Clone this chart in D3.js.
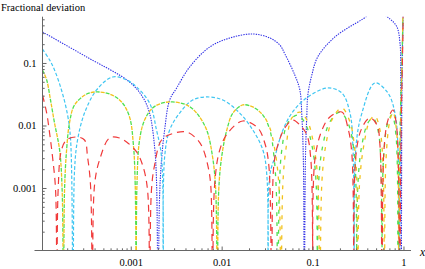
<!DOCTYPE html>
<html>
<head>
<meta charset="utf-8">
<script src="https://cdn.jsdelivr.net/npm/d3@7"></script>
<style>
	body { margin: 0; background: #fff; }
	svg text { font-family: "Liberation Serif", "Times New Roman", "DejaVu Serif", serif; }
</style>
</head>
<body>
<div id="chart-area" style="width:425px;height:269px;"></div>
<script>

// values, [x, deviation]; 1e-5 marks a zero crossing
const blueData = [
	[1.07e-4, 0.313], [3.27e-4, 0.125], [9.70e-4, 0.0497], [1.35e-3, 0.0286], [1.61e-3, 0.0158],
	[1.83e-3, 0.00453], [1.92e-3, 0.00134], [2.0e-3, 1e-5], [2.07e-3, 6.4e-4], [2.18e-3, 0.00281],
	[2.36e-3, 0.00847], [2.68e-3, 0.0256], [3.20e-3, 0.0398], [4.45e-3, 0.0863], [7.38e-3, 0.180],
	[0.0123, 0.251], [0.0220, 0.291], [0.0339, 0.251], [0.0436, 0.194], [0.0495, 0.140],
	[0.0638, 0.0640], [0.0725, 0.0370], [0.0762, 0.0147], [0.0792, 0.00281], [0.0813, 1e-5],
	[0.0834, 0.00281], [0.0865, 0.0147], [0.0887, 0.0308], [0.0982, 0.0643], [0.114, 0.125],
	[0.176, 0.261], [0.358, 0.506], [0.498, 0.679], [0.710, 0.506], [0.847, 0.377],
	[0.915, 0.209], [0.934, 0.037], [0.946, 1e-5], [0.962, 0.037], [0.987, 0.488], [1.0, 3]
];

const cyanData = [
	[1.07e-4, 0.167], [1.28e-4, 0.112], [1.45e-4, 0.0773], [1.73e-4, 0.0370], [2.02e-4, 0.0147],
	[2.18e-4, 0.00586], [2.32e-4, 1e-5], [2.41e-4, 0.00194], [2.60e-4, 0.00586], [3.10e-4, 0.0158],
	[4.21e-4, 0.0370], [6.31e-4, 0.0597], [9.00e-4, 0.0535], [1.16e-3, 0.0413], [1.61e-3, 0.0229],
	[1.92e-3, 0.00847], [2.18e-3, 0.00313], [2.28e-3, 1e-5], [2.36e-3, 0.00313], [2.68e-3, 0.00847],
	[3.45e-3, 0.0158], [4.80e-3, 0.0256], [6.84e-3, 0.0286], [0.0103, 0.0256], [0.0158, 0.0158],
	[0.0220, 0.00847], [0.0284, 0.00406], [0.0314, 0.00161], [0.0326, 1e-5], [0.0339, 0.00161],
	[0.0385, 0.00313], [0.0459, 0.00759], [0.0592, 0.0158], [0.0887, 0.0286], [0.147, 0.0398],
	[0.210, 0.0331], [0.258, 0.0158], [0.278, 0.00453], [0.289, 1e-5], [0.300, 0.00453],
	[0.349, 0.0158], [0.485, 0.0479], [0.675, 0.0331], [0.806, 0.0158], [0.869, 0.00453],
	[0.892, 1e-5], [0.927, 0.00586], [0.975, 0.233], [1.0, 3]
];

const greenData = [
	[1.07e-4, 0.0773], [1.19e-4, 0.0535], [1.31e-4, 0.0256], [1.45e-4, 0.0110], [1.65e-4, 0.00406],
	[1.76e-4, 9.3e-4], [1.82e-4, 1e-5], [1.87e-4, 9.3e-4], [1.97e-4, 0.00406], [2.12e-4, 0.0110],
	[2.41e-4, 0.0213], [3.27e-4, 0.0319], [4.21e-4, 0.0344], [5.85e-4, 0.0319], [7.93e-4, 0.0238],
	[9.70e-4, 0.0137], [1.07e-3, 0.00488], [1.12e-3, 1.12e-3], [1.15e-3, 1e-5], [1.17e-3, 1.12e-3],
	[1.25e-3, 0.00586], [1.42e-3, 0.0122], [1.74e-3, 0.0191], [2.24e-3, 0.0229], [2.88e-3, 0.0238],
	[4.12e-3, 0.0213], [5.31e-3, 0.0158], [6.84e-3, 0.00847], [7.95e-3, 0.00313], [8.6e-3, 9.3e-4],
	[8.95e-3, 1e-5], [9.29e-3, 9.3e-4], [0.0100, 0.00313], [0.0114, 0.00847], [0.0133, 0.0158],
	[0.0171, 0.0213], [0.0220, 0.0198], [0.0284, 0.0147], [0.0339, 0.00847], [0.0375, 0.00337],
	[0.0399, 9.3e-4], [0.0415, 1e-5], [0.0431, 9.3e-4], [0.0459, 0.00406], [0.0534, 0.0110],
	[0.0689, 0.0147], [0.0844, 0.0102], [0.0982, 0.00488], [0.109, 0.00134], [0.113, 1e-5],
	[0.117, 0.00134], [0.130, 0.00488], [0.155, 0.0114], [0.200, 0.0164], [0.245, 0.0110],
	[0.285, 0.00406], [0.300, 1.12e-3], [0.308, 1e-5], [0.315, 1.12e-3], [0.349, 0.00488],
	[0.406, 0.0110], [0.462, 0.0132], [0.524, 0.00847], [0.565, 0.00233], [0.580, 1e-5],
	[0.602, 0.00281], [0.675, 0.0114], [0.747, 0.0147], [0.827, 0.00705], [0.865, 1e-5],
	[0.904, 0.00406], [0.975, 0.233], [1.0, 3]
];

const yellowData = [
	[1.07e-4, 0.0773], [1.19e-4, 0.0535], [1.31e-4, 0.0256], [1.45e-4, 0.0110], [1.65e-4, 0.00406],
	[1.76e-4, 9.3e-4], [1.82e-4, 1e-5], [1.87e-4, 9.3e-4], [1.97e-4, 0.00406], [2.12e-4, 0.0110],
	[2.41e-4, 0.0213], [3.27e-4, 0.0319], [4.21e-4, 0.0344], [5.85e-4, 0.0319], [7.93e-4, 0.0238],
	[9.70e-4, 0.0137], [1.07e-3, 0.00488], [1.12e-3, 1.12e-3], [1.15e-3, 1e-5], [1.17e-3, 1.12e-3],
	[1.25e-3, 0.00586], [1.42e-3, 0.0122], [1.74e-3, 0.0191], [2.24e-3, 0.0229], [2.88e-3, 0.0238],
	[4.12e-3, 0.0213], [5.31e-3, 0.0158], [6.84e-3, 0.00847], [7.95e-3, 0.00313], [8.6e-3, 9.3e-4],
	[8.95e-3, 1e-5], [9.29e-3, 9.3e-4], [0.0100, 0.00313], [0.0114, 0.00847], [0.0133, 0.0158],
	[0.0171, 0.0213], [0.0220, 0.0198], [0.0284, 0.0147], [0.0339, 0.00912], [0.0385, 0.00406],
	[0.0426, 1.12e-3], [0.0448, 1e-5], [0.0471, 1.12e-3], [0.0508, 0.00406], [0.0592, 0.0132],
	[0.0725, 0.0164], [0.0887, 0.0114], [0.103, 0.00488], [0.114, 0.00134], [0.120, 1e-5],
	[0.127, 0.00134], [0.140, 0.00488], [0.167, 0.0132], [0.210, 0.0191], [0.258, 0.0114],
	[0.292, 0.00406], [0.308, 1.12e-3], [0.315, 1e-5], [0.328, 1.12e-3], [0.367, 0.00488],
	[0.428, 0.0122], [0.485, 0.0142], [0.551, 0.00847], [0.595, 0.00233], [0.618, 1e-5],
	[0.642, 0.00281], [0.710, 0.0122], [0.766, 0.0164], [0.847, 0.00705], [0.881, 1e-5],
	[0.915, 0.00406], [0.975, 0.233], [1.0, 3]
];

const redData = [
	[1.07e-4, 0.0308], [1.19e-4, 0.0158], [1.28e-4, 0.00759], [1.38e-4, 0.00313], [1.49e-4, 9.3e-4],
	[1.54e-4, 1e-5], [1.59e-4, 9.3e-4], [1.73e-4, 0.00406], [1.97e-4, 0.00586], [2.54e-4, 0.00655],
	[3.10e-4, 0.00586], [3.35e-4, 0.00313], [3.61e-4, 1.12e-3], [3.80e-4, 1e-5], [4.0e-4, 1.12e-3],
	[4.54e-4, 0.00281], [5.85e-4, 0.00631], [7.54e-4, 0.00631], [9.00e-4, 0.00545], [1.16e-3, 0.00377],
	[1.35e-3, 0.00233], [1.53e-3, 9.3e-4], [1.61e-3, 1e-5], [1.69e-3, 9.3e-4], [1.83e-3, 0.00233],
	[2.18e-3, 0.00586], [2.81e-3, 0.00731], [4.12e-3, 0.00787], [5.45e-3, 0.00586], [6.18e-3, 0.00437],
	[7.03e-3, 0.00233], [7.58e-3, 1.12e-3], [7.95e-3, 1e-5], [8.37e-3, 1.12e-3], [9.53e-3, 0.00406],
	[0.0117, 0.00759], [0.0171, 0.0118], [0.0250, 0.00912], [0.0298, 0.00525], [0.0330, 0.00233],
	[0.0356, 1e-5], [0.0375, 0.00233], [0.0415, 0.00488], [0.0495, 0.00912], [0.0607, 0.0122],
	[0.0725, 0.0102], [0.0865, 0.00705], [0.0958, 0.00281], [0.101, 1e-5], [0.106, 0.00281],
	[0.127, 0.00847], [0.155, 0.0137], [0.210, 0.0164], [0.245, 0.00912], [0.271, 0.00337],
	[0.285, 1e-5], [0.300, 0.00337], [0.349, 0.00912], [0.428, 0.0132], [0.511, 0.0102],
	[0.551, 0.00488], [0.580, 1e-5], [0.610, 0.00406], [0.675, 0.0122], [0.766, 0.0177],
	[0.847, 0.00847], [0.904, 1e-5], [0.938, 0.00586], [0.987, 0.337], [1.0, 3]
];

const xMajorTicks = [0.001, 0.01, 0.1, 1];
const xTickLabels = ['0.001', '0.01', '0.1', '1'];
const yMajorTicks = [0.001, 0.01, 0.1];
const yTickLabels = ['0.001', '0.01', '0.1'];

window.addEventListener('DOMContentLoaded', () => {

	const width = 425;
	const height = 269;
	const serif = '"Liberation Serif", "Times New Roman", "DejaVu Serif", serif';

	const svg = d3.select('#chart-area')
		.append('svg')
		.attr('width', width)
		.attr('height', height);

	// Scales
	const x = d3.scaleLog()
		.domain([1.07e-4, 1.21])
		.range([42.5, 411]);

	const y = d3.scaleLog()
		.domain([1e-4, 0.55])
		.range([250.5, 16.7]);

	// minor ticks 2..9 per decade inside the domains
	const minorTicks = (scale) => {
		const [lo, hi] = scale.domain();
		const out = [];
		for (let e = -5; e <= 1; e++) {
			for (let m = 2; m <= 9; m++) {
				const v = m * Math.pow(10, e);
				if (v >= lo && v <= hi) out.push(v);
			}
		}
		return out;
	};

	const series = [
		{ data: blueData, color: '#2f2fe6', dash: '1.4,1.1', width: 1.1 },
		{ data: cyanData, color: '#3fc6f2', dash: '3.5,2', width: 1.2 },
		{ data: greenData, color: '#4fe04f', dash: '4,6', width: 1.3, offset: 0 },
		{ data: yellowData, color: '#f2c21c', dash: '4,6', width: 1.3, offset: 5 },
		{ data: redData, color: '#f03a3a', dash: '7,5', width: 1.2 }
	];

	svg.append('defs').append('clipPath')
		.attr('id', 'plot-clip')
		.append('rect')
		.attr('x', x.range()[0])
		.attr('y', y.range()[1])
		.attr('width', x.range()[1] - x.range()[0])
		.attr('height', y.range()[0] - y.range()[1]);

	const line = d3.line()
		.x(d => x(d[0]))
		.y(d => y(d[1]))
		.curve(d3.curveCatmullRom.alpha(0.5));

	const plot = svg.append('g').attr('clip-path', 'url(#plot-clip)');

	series.forEach(s => {
		plot.append('path')
			.datum(s.data)
			.attr('fill', 'none')
			.attr('stroke', s.color)
			.attr('stroke-width', s.width)
			.attr('stroke-dasharray', s.dash)
			.attr('stroke-dashoffset', s.offset || 0)
			.attr('d', line);
	});

	const axisColor = '#666';

	// X axis
	const bottomMajor = d3.axisBottom(x)
		.tickValues(xMajorTicks)
		.tickSizeInner(-4)
		.tickSizeOuter(0)
		.tickPadding(8)
		.tickFormat((d, i) => xTickLabels[i]);
	const bottomMinor = d3.axisBottom(x)
		.tickValues(minorTicks(x))
		.tickSizeInner(-2.2)
		.tickSizeOuter(0)
		.tickFormat('');

	const gx = svg.append('g')
		.attr('transform', `translate(0, ${y.range()[0]})`);
	gx.append('g').call(bottomMinor);
	gx.append('g').call(bottomMajor);
	gx.selectAll('.domain').remove();
	gx.append('line')
		.attr('x1', 34.5).attr('x2', x.range()[1])
		.attr('y1', 0).attr('y2', 0);
	gx.selectAll('line').attr('stroke', axisColor).attr('stroke-width', 1);
	gx.selectAll('text')
		.attr('font-family', serif)
		.attr('font-size', 10.5)
		.attr('fill', '#000');

	gx.append('text')
		.attr('x', 420)
		.attr('y', 5)
		.attr('font-family', serif)
		.attr('font-size', 11.5)
		.attr('font-style', 'italic')
		.attr('fill', '#000')
		.text('x');

	// Y axis
	const leftMajor = d3.axisLeft(y)
		.tickValues(yMajorTicks)
		.tickSizeInner(-4)
		.tickSizeOuter(0)
		.tickPadding(6)
		.tickFormat((d, i) => yTickLabels[i]);
	const leftMinor = d3.axisLeft(y)
		.tickValues(minorTicks(y))
		.tickSizeInner(-2.2)
		.tickSizeOuter(0)
		.tickFormat('');

	const gy = svg.append('g')
		.attr('transform', `translate(${x.range()[0]}, 0)`);
	gy.append('g').call(leftMinor);
	gy.append('g').call(leftMajor);
	gy.selectAll('.domain').remove();
	gy.append('line')
		.attr('x1', 0).attr('x2', 0)
		.attr('y1', y.range()[1]).attr('y2', y.range()[0]);
	gy.selectAll('line').attr('stroke', axisColor).attr('stroke-width', 1);
	gy.selectAll('text')
		.attr('font-family', serif)
		.attr('font-size', 10.5)
		.attr('fill', '#000');

	svg.append('text')
		.attr('x', 1)
		.attr('y', 11)
		.attr('font-family', serif)
		.attr('font-size', 10.5)
		.attr('fill', '#000')
		.text('Fractional deviation');

});

</script>
</body>
</html>
